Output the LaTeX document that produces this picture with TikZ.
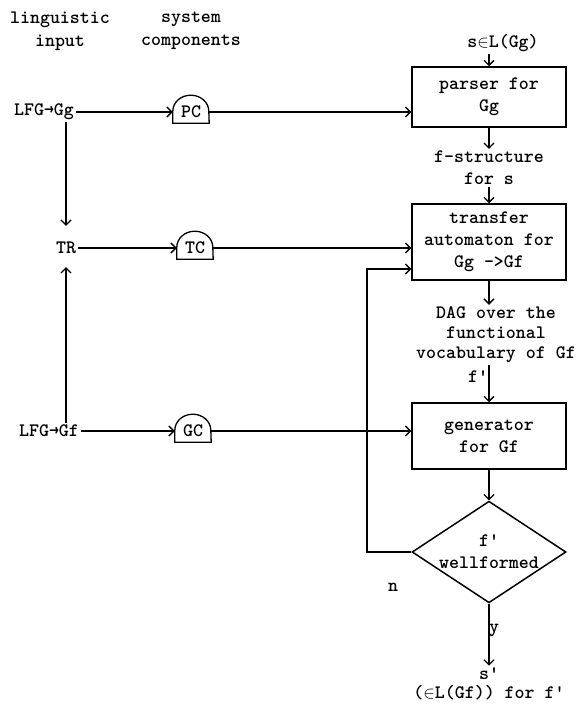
\documentclass[tikz,border=0pt]{standalone}
\usepackage{fontspec}
\usepackage{tikz}
\usetikzlibrary{positioning,calc,arrows.meta,shapes.geometric}

\begin{document}
\begin{tikzpicture}[
		x=1pt,
		y=-1pt,
		>={Straight Barb[length=5pt,width=10pt,line width=1.3pt]},
		font=\ttfamily\bfseries\fontsize{19}{22}\selectfont,
		txt/.style={align=center, inner sep=2pt},
		comp/.style={minimum width=36pt, minimum height=22pt, inner sep=0pt},
		dome/.style={line width=1.3pt},
		proc/.style={
			draw,
			line width=1.5pt,
			minimum width=154pt,
			align=center,
			inner sep=0pt
		},
		test/.style={
			diamond,
			draw,
			line width=1.5pt,
			minimum width=154pt,
			minimum height=86pt,
			inner sep=-8pt,
			align=center
		},
		flow/.style={->, line width=1.4pt}
	]
	
	% Canvas
	\useasboundingbox (0,0) rectangle (586,706);
	
	% Headers
	\node[txt, font=\ttfamily\bfseries\fontsize{19}{23}\selectfont] (hin) at (60,31) {linguistic\\input};
	\node[txt, font=\ttfamily\bfseries\fontsize{19}{23}\selectfont] (hsys) at (191,31) {system\\components};
	
	% Linguistic input
	\node[txt] (lfgg) at (44,112) {LFG→Gg};
	\node[txt] (tr) at (66,248) {TR};
	\node[txt] (lfgf) at (49,431) {LFG→Gf};
	
	% System components
	\node[comp] (pc) at (191,112) {PC};
	\node[comp] (tc) at (195,248) {TC};
	\node[comp] (gc) at (193,431) {GC};
	\foreach \c in {pc,tc,gc}{
		\draw[dome] (\c.south west) -- ++(0,12pt)
		arc[start angle=180, end angle=0, x radius=18pt, y radius=16pt]
		-- (\c.south east) -- cycle;
	}
	
	% Processing column
	\node[txt] (sin) at (503,43) {s\ensuremath{\in}L(Gg)};
	\node[proc, minimum height=60pt] (parser) at (489,97) {parser for\\Gg};
	\node[txt] (fstr) at (489,168) {f-structure\\for s};
	\node[proc, minimum height=76pt] (transfer) at (489,242) {transfer\\automaton for\\Gg ->Gf};
	\node[txt, font=\ttfamily\bfseries\fontsize{19}{20}\selectfont] (dag) at (496,335) {DAG over the\\functional\\vocabulary of Gf};
	\node[txt] (fp) at (478,377) {f'};
	\node[proc, minimum height=66pt] (gen) at (489,436) {generator\\for Gf};
	\node[test] (wf) at (489,552) {f'\\wellformed};
	\node[txt] (lbn) at (393,587) {n};
	\node[txt] (lby) at (494,630) {y};
	\node[txt, font=\ttfamily\bfseries\fontsize{19}{19}\selectfont] (out) at (489,684) {s'\\(\ensuremath{\in}L(Gf)) for f'};
	\coordinate (fb) at (367,269);
	
	% Input to components
	\draw[flow] (lfgg) -- (pc);
	\draw[flow] (tr) -- (tc);
	\draw[flow] (lfgf) -- (gc);
	\draw[flow, shorten >=14pt] (lfgg.south -| tr) -- (tr);
	\draw[flow, shorten >=11pt] (lfgf.north -| tr) -- (tr);
	
	% Components to processors
	\draw[flow] (pc.east) -- (pc.east -| parser.west);
	\draw[flow] (tc.east) -- (tc.east -| transfer.west);
	\draw[flow] (gc.east) -- (gc.east -| gen.west);
	
	% Main flow
	\draw[flow] (sin.south -| parser) -- (parser);
	\draw[flow] (parser) -- (fstr);
	\draw[flow] (fstr) -- (transfer);
	\draw[flow] (transfer) -- (dag.north -| transfer);
	\draw[flow] (dag.south -| gen) -- (gen);
	\draw[flow] (gen) -- (wf);
	\draw[flow] (wf) -- (out);
	
	% Feedback
	\draw[flow] (wf.west) -| (fb) -- (fb -| transfer.west);
	
\end{tikzpicture}
\end{document}
